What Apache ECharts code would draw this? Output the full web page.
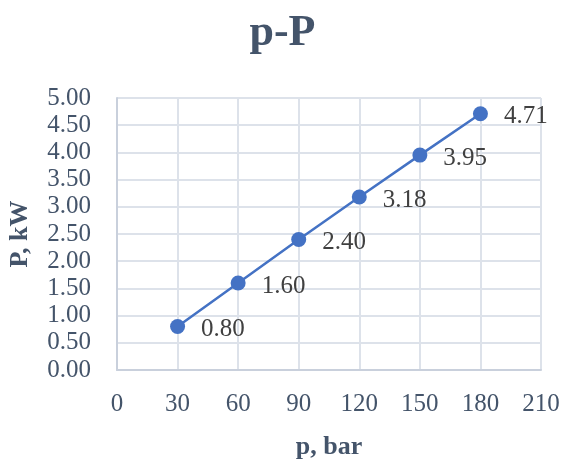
<!DOCTYPE html>
<html><head><meta charset="utf-8">
<script src="https://cdn.jsdelivr.net/npm/echarts@6/dist/echarts.min.js"></script>
<style>html,body{margin:0;padding:0;background:#fff}#c{width:565px;height:462px}</style>
</head><body><div id="c"></div>
<script>
const pressure = [30, 60, 90, 120, 150, 180];
const power = [0.80, 1.60, 2.40, 3.18, 3.95, 4.71];
const titleText = 'p-P';
const xName = 'p, bar';
const yName = 'P, kW';

const chart = echarts.init(document.getElementById('c'), null, {renderer: 'canvas'});
const serif = '"Liberation Serif", "Times New Roman", serif';
chart.setOption({
  animation: false,
  backgroundColor: '#ffffff',
  title: {
    text: titleText, left: 'center', top: 7,
    textStyle: {fontFamily: serif, fontSize: 44, fontWeight: 'bold', color: '#44546A'}
  },
  grid: {left: 117, right: 24, top: 98, bottom: 92, containLabel: false, outerBoundsMode: 'none'},
  xAxis: {
    type: 'value', min: 0, max: 210, interval: 30,
    name: xName, nameLocation: 'middle', nameGap: 64,
    nameTextStyle: {fontFamily: serif, fontSize: 26, fontWeight: 'bold', color: '#44546A'},
    axisLine: {show: true, lineStyle: {color: '#C9D0DC', width: 2}},
    axisTick: {show: false},
    axisLabel: {fontFamily: serif, fontSize: 25, color: '#44546A', margin: 22},
    splitLine: {show: true, lineStyle: {color: '#DDE2EA', width: 2}}
  },
  yAxis: {
    type: 'value', min: 0, max: 5, interval: 0.5,
    name: yName, nameLocation: 'middle', nameGap: 84, nameRotate: 90,
    nameTextStyle: {fontFamily: serif, fontSize: 26, fontWeight: 'bold', color: '#44546A'},
    axisLine: {show: true, lineStyle: {color: '#C9D0DC', width: 2}},
    axisTick: {show: false},
    axisLabel: {fontFamily: serif, fontSize: 25, color: '#44546A', margin: 26,
      formatter: v => v.toFixed(2)},
    splitLine: {show: true, lineStyle: {color: '#DDE2EA', width: 2}}
  },
  series: [{
    type: 'line',
    data: pressure.map((p, i) => [p, power[i]]),
    symbol: 'circle', symbolSize: 15,
    lineStyle: {color: '#4472C4', width: 2.5},
    itemStyle: {color: '#4472C4'},
    label: {
      show: true, position: 'right', distance: 16, offset: [0, 3],
      fontFamily: serif, fontSize: 25, color: '#404040',
      formatter: p => p.value[1].toFixed(2)
    }
  }]
});
</script></body></html>
